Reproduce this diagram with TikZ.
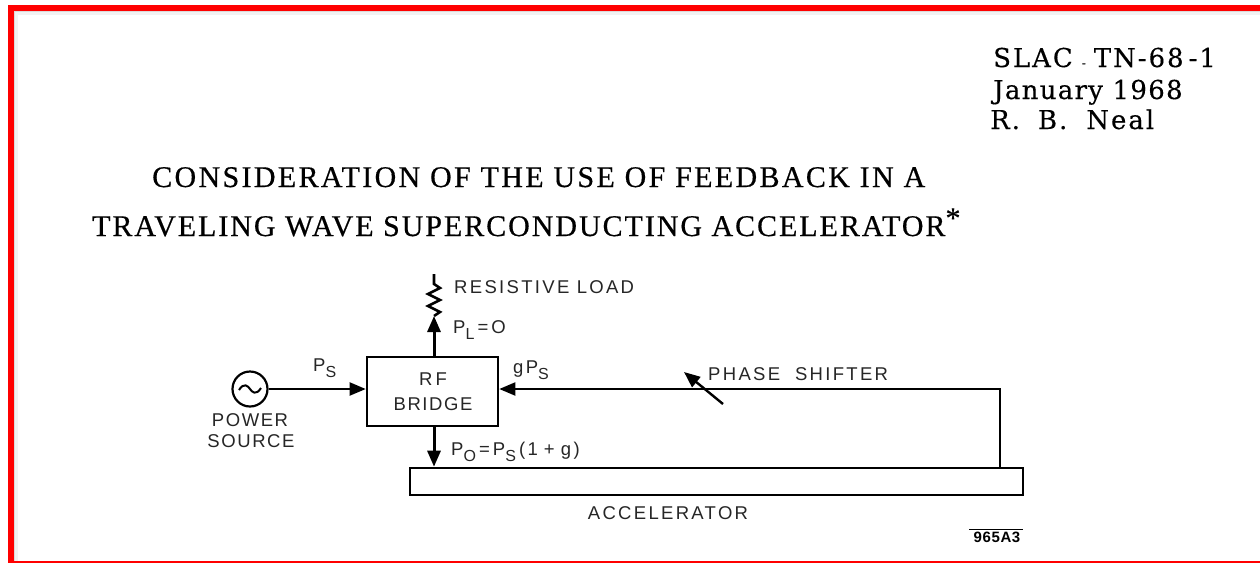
\documentclass[tikz,border=0pt]{standalone}
\usepackage{fontspec}
\setmainfont{Liberation Serif}
\newfontfamily\labfont[LetterSpace=12.5]{Liberation Sans}
\newfontfamily\labshort[LetterSpace=8.5]{Liberation Sans}
\newfontfamily\labtight[LetterSpace=4]{Liberation Sans}
\newfontfamily\titlefont[LetterSpace=7.8,FakeBold=0.5]{Liberation Serif}
\newfontfamily\titlefontb[LetterSpace=6.5,FakeBold=0.5]{Liberation Serif}
\newfontfamily\headfont[LetterSpace=7.5,FakeBold=0.3]{DejaVu Serif}
\newfontfamily\datefont[LetterSpace=5,FakeBold=0.3]{DejaVu Serif}
\usetikzlibrary{arrows.meta,calc}
\definecolor{framered}{RGB}{255,0,0}
\tikzset{
  x=1pt,y=-1pt,
  wire/.style={line width=2.4pt,black},
  flow/.style={wire,-{Triangle[length=16pt,width=13pt]}},
  lab/.style={font=\labfont\fontsize{18.5}{20}\selectfont,inner sep=0pt,anchor=west,text=black!85},
  labc/.style={font=\labshort\fontsize{18.5}{20}\selectfont,inner sep=0pt,text=black!85},
  head/.style={font=\headfont\fontsize{26}{28}\selectfont,inner sep=0pt,anchor=base west},
  datehead/.style={font=\datefont\fontsize{26}{28}\selectfont,inner sep=0pt,anchor=base west},
  ttl/.style={font=\titlefont\fontsize{30}{32}\selectfont,inner sep=0pt,anchor=base west},
  ttlb/.style={font=\titlefontb\fontsize{30}{32}\selectfont,inner sep=0pt,anchor=base west},
  sub/.style={font=\labtight\bfseries\fontsize{15}{16}\selectfont,inner sep=0pt},
  blockbox/.style={draw,line width=2.6pt,inner sep=0pt,fill=white},
}
\newcommand{\lbl}[2]{#1\raisebox{-6pt}{\fontsize{16}{20}\selectfont #2}}
\begin{document}
\begin{tikzpicture}
\useasboundingbox (0,0) rectangle (1260,563);
\fill[white] (0,0) rectangle (1260,563);
% red frame with its soft shadow
\draw[black!5,line width=4pt] (1260,13) -- (16,13) -- (16,563);
\draw[black!14,line width=1.5pt] (1260,11.7) -- (14.7,11.7) -- (14.7,563);
\fill[framered] (8,5) rectangle (1260,11);
\fill[framered] (8,5) rectangle (14,563);
\fill[framered] (8,561) rectangle (1260,563);
% header
\node[head] (ref)  at (993,67) {SLAC\hspace{9pt}{\fontsize{12}{12}\selectfont -}\hspace{8pt}TN-68\hspace{5pt}-1};
\node[datehead] (date) at (993,99) {January 1968};
\node[head] (auth) at (990,129) {R.\hspace{18pt}B.\hspace{19pt}Neal};
% title
\node[ttl] (t1) at (152,187) {CONSIDERATION OF THE USE OF FEEDBACK IN A};
\node[ttlb] (t2) at (92,236) {TRAVELING WAVE SUPERCONDUCTING ACCELERATOR\raisebox{8pt}{*}};
% blocks
\node[blockbox,minimum width=131pt,minimum height=69pt] (bridge) at (432.5,391.5) {};
\node[labc] (rf) at (433,379) {R\,F};
\node[labc] (br) at (433,404) {BRIDGE};
\node[blockbox,minimum width=613pt,minimum height=27pt] (acc) at (716.5,481.5) {};
\node[draw,circle,line width=2.2pt,minimum size=35pt,inner sep=0pt] (src) at (250,389) {};
\draw[line width=2pt] ($(src)+(-11,1)$) .. controls ($(src)+(-6,-7)$) and ($(src)+(-2,-3)$) .. (src.center) .. controls ($(src)+(2,3)$) and ($(src)+(6,7)$) .. ($(src)+(11,-1)$);
% connectors
\coordinate (loadbase) at (434,316);
\coordinate (loadtop) at (434,274);
\coordinate (fbturn) at (1000,389);
\coordinate (fbfoot) at (1000,468);
\coordinate (shiftA) at (723,404);
\coordinate (shiftB) at (684,372);
\draw[flow,line width=3pt] (bridge.north -| loadbase) -- (loadbase);
\draw[flow,line width=3pt] (bridge.south -| loadbase) -- (acc.north -| loadbase);
\draw[flow,line width=2pt] (src.east) -- (bridge.west |- src);
\draw[flow,line width=2pt] (fbfoot) -- (fbturn) -- (bridge.east |- fbturn);
\draw[line width=2.6pt,line join=miter] (loadbase) -- ++(6,-4) -- ++(-12,-6) -- ++(12,-6) -- ++(-12,-6) -- ++(12,-6) -- ++(-6,-4) -- (loadtop);
\draw[wire,-{Triangle[length=16pt,width=13pt]}] (shiftA) -- (shiftB);
% labels
\node[lab] (lres) at (454,287) {RESISTIVE LOAD};
\node[lab] (lpl) at (453,330) {\lbl{P}{L}\,{=}\,O};
\node[lab] (lps) at (313,368) {\lbl{P}{S}};
\node[lab] (lgps) at (513,370) {g\lbl{P}{S}};
\node[lab] (lshift) at (708,374) {PHASE \ SHIFTER};
\node[labc] (lpow) at (250,420) {POWER};
\node[labc] (lsrc) at (251,441) {SOURCE};
\node[lab] (lpo) at (451,452) {\lbl{P}{O}\,{=}\,\lbl{P}{S}\,(1\,\,+\,\,g)};
\node[lab,anchor=center] (lacc) at (668,513) {ACCELERATOR};
\node[sub] (num) at (997,537) {965A3};
\coordinate (barL) at (969,529);
\coordinate (barR) at (1023,529);
\draw[line width=1pt] (barL) -- (barR);
\end{tikzpicture}
\end{document}
